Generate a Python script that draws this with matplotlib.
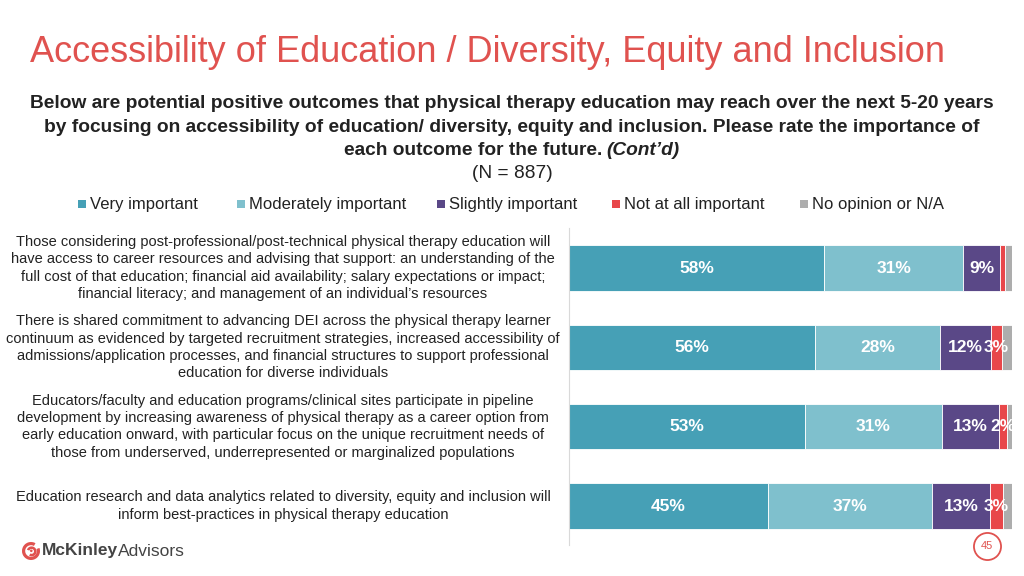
import matplotlib.pyplot as plt
from matplotlib.lines import Line2D
from matplotlib.patches import Rectangle, Wedge, Circle
from matplotlib.transforms import blended_transform_factory

plt.rcParams['font.family'] = ['Liberation Sans', 'DejaVu Sans']

categories = [
    "Those considering post-professional/post-technical physical therapy education will\n"
    "have access to career resources and advising that support: an understanding of the\n"
    "full cost of that education; financial aid availability; salary expectations or impact;\n"
    "financial literacy; and management of an individual\u2019s resources",
    "There is shared commitment to advancing DEI across the physical therapy learner\n"
    "continuum as evidenced by targeted recruitment strategies, increased accessibility of\n"
    "admissions/application processes, and financial structures to support professional\n"
    "education for diverse individuals",
    "Educators/faculty and education programs/clinical sites participate in pipeline\n"
    "development by increasing awareness of physical therapy as a career option from\n"
    "early education onward, with particular focus on the unique recruitment needs of\n"
    "those from underserved, underrepresented or marginalized populations",
    "Education research and data analytics related to diversity, equity and inclusion will\n"
    "inform best-practices in physical therapy education",
]
series_names = ["Very important", "Moderately important", "Slightly important",
                "Not at all important", "No opinion or N/A"]
very = [57.6, 55.5, 53.3, 44.9]
moderately = [31.4, 28.2, 30.9, 37.0]
slightly = [8.4, 11.5, 12.9, 13.1]
not_at_all = [1.1, 2.6, 1.8, 2.9]
no_opinion = [1.5, 2.2, 1.1, 2.1]
labels = [
    ["58%", "56%", "53%", "45%"],
    ["31%", "28%", "31%", "37%"],
    ["9%", "12%", "13%", "13%"],
    ["", "3%", "2%", "3%"],
    ["", "", "", ""],
]
colors = ["#46A0B6", "#7FC0CD", "#5A4887", "#E8474A", "#ADADAD"]

W, H = 1024, 576


def fx(px):
    return px / W


def fy(py):
    return 1 - py / H


fig = plt.figure(figsize=(10.24, 5.76), dpi=100)

fig.text(fx(30), fy(53), "Accessibility of Education / Diversity, Equity and Inclusion",
         color="#E0524F", fontsize=26, va="center", ha="left")

sub_lines = [
    "Below are potential positive outcomes that physical therapy education may reach over the next 5-20 years",
    "by focusing on accessibility of education/ diversity, equity and inclusion. Please rate the importance of",
]
for py, line in zip([104, 127], sub_lines):
    fig.text(fx(512), fy(py), line, ha="center", va="center", fontsize=13.8,
             fontweight="bold", color="#222222")
fig.text(fx(602), fy(150), "each outcome for the future.", ha="right", va="center",
         fontsize=13.8, fontweight="bold", color="#222222")
fig.text(fx(606), fy(150), "(Cont\u2019d)", ha="left", va="center", fontsize=13.8,
         fontweight="bold", fontstyle="italic", color="#222222")
fig.text(fx(512), fy(174), "(N = 887)", ha="center", va="center", fontsize=13.8, color="#222222")

ax = fig.add_axes([fx(569), fy(545), 443 / W, 317 / H])
ypos = list(range(len(categories)))
values = [very, moderately, slightly, not_at_all, no_opinion]
left = [0.0] * len(categories)
for vals, col, labs in zip(values, colors, labels):
    ax.barh(ypos, vals, left=left, height=0.57, color=col, edgecolor="white", linewidth=0.6)
    for y, v, l, lab in zip(ypos, vals, left, labs):
        if lab:
            ax.text(l + v / 2, y, lab, ha="center", va="center", color="white",
                    fontsize=12.5, fontweight="bold")
    left = [a + b for a, b in zip(left, vals)]

ax.set_xlim(0, 100)
ax.set_ylim(3.49, -0.504)
ax.set_xticks([])
ax.set_yticks([])
for s in ["top", "right", "bottom"]:
    ax.spines[s].set_visible(False)
ax.spines["left"].set_color("#D9D9D9")

trans = blended_transform_factory(ax.transAxes, ax.transData)
for y, cat in zip(ypos, categories):
    ax.text(-0.6456, y, cat, transform=trans, ha="center", va="center",
            fontsize=10.5, color="#222222", linespacing=1.3)

# legend, placed by hand
legend_x = [82, 241, 441, 616, 804]
for x, name, col in zip(legend_x, series_names, colors):
    fig.add_artist(Rectangle((fx(x - 4), fy(208)), 8 / W, 8 / H, transform=fig.transFigure,
                             facecolor=col, edgecolor="none"))
    fig.text(fx(x + 8), fy(204), name, ha="left", va="center", fontsize=12, color="#222222")

# logo
lax = fig.add_axes([fx(20), fy(562), 22 / W, 22 / H])
lax.set_xlim(-11, 11)
lax.set_ylim(-11, 11)
lax.set_aspect("equal")
lax.axis("off")
lax.add_patch(Wedge((0, 0), 9, 60, 380, width=3.2, facecolor="#E0524F", edgecolor="none"))
lax.add_patch(Wedge((0.6, -0.4), 5, 240, 520, width=2.6, facecolor="#E0524F", edgecolor="none"))
lax.add_patch(Circle((0.3, 0.2), 1.3, facecolor="#E0524F", edgecolor="none"))
fig.text(fx(42), fy(551), "McKinley", color="#444444", fontsize=12.5, fontweight="bold",
         va="center", ha="left")
fig.text(fx(118), fy(551), "Advisors", color="#444444", fontsize=12.5,
         va="center", ha="left")

# page number
fig.add_artist(Line2D([fx(987)], [fy(546)], marker="o", markersize=19.5, markerfacecolor="none",
                      markeredgecolor="#E0524F", markeredgewidth=1.3, transform=fig.transFigure))
fig.text(fx(987), fy(546), "45", color="#E0524F", fontsize=8, ha="center", va="center")

fig.savefig("out.png", dpi=100)
